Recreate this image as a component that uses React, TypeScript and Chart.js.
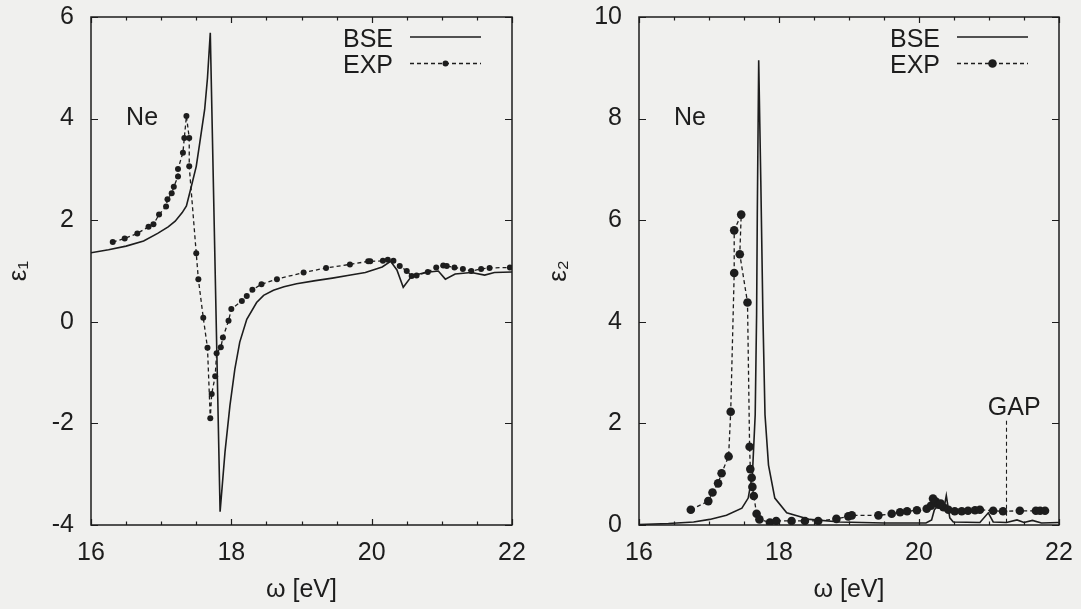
import React, { useEffect, useRef } from 'react';
import { Chart, registerables } from 'chart.js';

Chart.register(...registerables);

const FONT = '"Liberation Sans", Arial, Helvetica, sans-serif';
const INK = '#1d1d1d';
const PAPER = '#f0f0ee';

// ---------- data: epsilon_1 (left panel) ----------
const e1BseX = [16.0, 16.25, 16.5, 16.75, 16.95, 17.1, 17.2, 17.3, 17.36, 17.42, 17.5, 17.55, 17.62, 17.66, 17.7, 17.84, 17.91, 17.98, 18.05, 18.12, 18.22, 18.36, 18.46, 18.6, 18.75, 18.93, 19.2, 19.44, 19.7, 19.91, 20.15, 20.27, 20.36, 20.45, 20.57, 20.76, 20.95, 21.05, 21.19, 21.42, 21.61, 21.75, 22.0];
const e1BseY = [1.36, 1.42, 1.49, 1.59, 1.74, 1.87, 1.98, 2.15, 2.28, 2.61, 3.06, 3.52, 4.18, 4.8, 5.69, -3.74, -2.56, -1.65, -0.93, -0.4, 0.05, 0.38, 0.52, 0.62, 0.69, 0.75, 0.81, 0.86, 0.92, 0.97, 1.08, 1.19, 1.02, 0.68, 0.9, 0.97, 1.0, 0.84, 0.94, 0.97, 0.92, 0.97, 0.98];

const e1ExpX = [16.31, 16.48, 16.66, 16.82, 16.89, 16.97, 17.07, 17.09, 17.15, 17.18, 17.24, 17.24, 17.31, 17.33, 17.36, 17.4, 17.4, 17.5, 17.53, 17.6, 17.66, 17.7, 17.72, 17.77, 17.79, 17.85, 17.88, 17.96, 18.0, 18.15, 18.22, 18.3, 18.43, 18.65, 19.03, 19.35, 19.69, 19.95, 19.98, 20.16, 20.23, 20.31, 20.4, 20.5, 20.57, 20.64, 20.8, 20.92, 21.02, 21.07, 21.18, 21.3, 21.42, 21.56, 21.68, 21.97];
const e1ExpY = [1.57, 1.64, 1.74, 1.87, 1.92, 2.11, 2.27, 2.41, 2.53, 2.66, 2.86, 3.01, 3.33, 3.62, 4.05, 3.62, 3.06, 1.35, 0.84, 0.08, -0.51, -1.9, -1.42, -1.07, -0.62, -0.5, -0.31, 0.02, 0.25, 0.41, 0.51, 0.63, 0.74, 0.84, 0.97, 1.06, 1.13, 1.19, 1.19, 1.2, 1.22, 1.2, 1.1, 1.0, 0.9, 0.91, 0.98, 1.07, 1.11, 1.1, 1.07, 1.04, 1.0, 1.04, 1.06, 1.07];

// ---------- data: epsilon_2 (right panel) ----------
const e2BseX = [16.0, 16.42, 16.78, 17.01, 17.25, 17.47, 17.56, 17.62, 17.66, 17.68, 17.69, 17.71, 17.74, 17.77, 17.8, 17.85, 17.94, 18.11, 18.44, 18.87, 19.5, 20.1, 20.18, 20.22, 20.27, 20.32, 20.36, 20.39, 20.44, 20.49, 20.87, 20.99, 21.06, 21.25, 21.4, 21.5, 21.62, 21.75, 22.0];
const e2BseY = [0.01, 0.03, 0.06, 0.11, 0.19, 0.33, 0.53, 0.99, 2.17, 4.14, 6.11, 9.15, 6.77, 4.14, 2.17, 1.18, 0.53, 0.24, 0.11, 0.06, 0.04, 0.04, 0.1, 0.3, 0.38, 0.3, 0.35, 0.58, 0.14, 0.06, 0.05, 0.24, 0.06, 0.05, 0.1, 0.05, 0.09, 0.04, 0.05];

const e2ExpX = [16.74, 16.99, 17.05, 17.13, 17.18, 17.28, 17.31, 17.36, 17.36, 17.46, 17.44, 17.55, 17.58, 17.59, 17.61, 17.62, 17.64, 17.68, 17.72, 17.87, 17.96, 18.18, 18.37, 18.56, 18.82, 18.99, 19.04, 19.42, 19.61, 19.73, 19.83, 19.97, 20.11, 20.17, 20.2, 20.24, 20.28, 20.31, 20.35, 20.42, 20.51, 20.61, 20.7, 20.8, 20.87, 21.06, 21.2, 21.44, 21.67, 21.73, 21.8];
const e2ExpY = [0.3, 0.47, 0.64, 0.82, 1.02, 1.35, 2.23, 4.96, 5.8, 6.11, 5.33, 4.38, 1.54, 1.1, 0.93, 0.75, 0.57, 0.22, 0.11, 0.05, 0.08, 0.08, 0.08, 0.08, 0.12, 0.17, 0.19, 0.19, 0.22, 0.25, 0.27, 0.29, 0.32, 0.38, 0.52, 0.46, 0.4, 0.42, 0.35, 0.3, 0.27, 0.27, 0.28, 0.29, 0.3, 0.28, 0.27, 0.28, 0.28, 0.28, 0.28];

// ---------- axes / annotations ----------
const xRange = [16, 22];
const e1Range = [-4, 6];
const e2Range = [0, 10];
const labelStep = 2;
const minorStep = 0.5;
const neLabel = { text: 'Ne', x: 16.5, y1: 4, y2: 8 };
const gapMark = { text: 'GAP', x: 21.24, top: 2.05, labelX: 21.36, labelY: 2.3 };

const pts = (xs: number[], ys: number[]) => xs.map((x, i) => ({ x, y: ys[i] }));

const gnuPlugin = {
  id: 'gnu',
  afterDatasetsDraw(chart: any, _args: any, opts: any) {
    const { ctx, chartArea: a, scales } = chart;
    const x = scales.x;
    const y = scales.y;
    ctx.save();
    ctx.strokeStyle = INK;
    ctx.fillStyle = INK;
    ctx.setLineDash([]);
    // ticks (inward, mirrored)
    ctx.lineWidth = 1.2;
    ctx.beginPath();
    for (let v = x.min; v <= x.max + 1e-9; v += minorStep) {
      const px = Math.round(x.getPixelForValue(v)) + 0.5;
      const major = Math.abs(v / labelStep - Math.round(v / labelStep)) < 1e-6;
      const len = major ? 6 : 3.5;
      ctx.moveTo(px, a.bottom);
      ctx.lineTo(px, a.bottom - len);
      ctx.moveTo(px, a.top);
      ctx.lineTo(px, a.top + len);
    }
    y.ticks.forEach((t: any) => {
      const py = Math.round(y.getPixelForValue(t.value)) + 0.5;
      ctx.moveTo(a.left, py);
      ctx.lineTo(a.left + 7, py);
      ctx.moveTo(a.right, py);
      ctx.lineTo(a.right - 7, py);
    });
    ctx.stroke();
    // border
    ctx.lineWidth = 1.5;
    ctx.strokeRect(a.left, a.top, a.right - a.left, a.bottom - a.top);

    // "Ne" label
    ctx.font = `25px ${FONT}`;
    ctx.textAlign = 'left';
    ctx.textBaseline = 'middle';
    ctx.fillText(neLabel.text, x.getPixelForValue(neLabel.x), y.getPixelForValue(opts.neY));

    // legend (gnuplot style: right-justified text, then sample)
    chart.data.datasets.forEach((ds: any, i: number) => {
      const lineY = a.top + 20 + i * 26.5;
      ctx.textAlign = 'right';
      ctx.textBaseline = 'alphabetic';
      ctx.fillText(ds.label, a.right - 119, lineY + 9.5);
      ctx.beginPath();
      ctx.lineWidth = ds.borderWidth;
      ctx.setLineDash(ds.borderDash || []);
      ctx.moveTo(a.right - 102, lineY);
      ctx.lineTo(a.right - 31, lineY);
      ctx.stroke();
      ctx.setLineDash([]);
      if (ds.pointRadius > 0) {
        ctx.beginPath();
        ctx.arc(a.right - 66.5, lineY, ds.pointRadius, 0, Math.PI * 2);
        ctx.fill();
      }
    });

    // GAP marker
    if (opts.gap) {
      const gx = Math.round(x.getPixelForValue(gapMark.x)) + 0.5;
      ctx.beginPath();
      ctx.lineWidth = 1.1;
      ctx.setLineDash([4, 3]);
      ctx.moveTo(gx, y.getPixelForValue(gapMark.top));
      ctx.lineTo(gx, y.getPixelForValue(0));
      ctx.stroke();
      ctx.setLineDash([]);
      ctx.textAlign = 'center';
      ctx.textBaseline = 'middle';
      ctx.fillText(gapMark.text, x.getPixelForValue(gapMark.labelX), y.getPixelForValue(gapMark.labelY));
    }
    ctx.restore();
  },
};

function makeConfig(p: {
  bse: { x: number; y: number }[];
  exp: { x: number; y: number }[];
  yRange: number[];
  yTitle: string;
  dotR: number;
  yWidth: number;
  padRight: number;
  neY: number;
  gap: boolean;
}): any {
  return {
    type: 'line',
    data: {
      datasets: [
        {
          label: 'BSE',
          data: p.bse,
          borderColor: INK,
          borderWidth: 1.6,
          pointRadius: 0,
          tension: 0,
          fill: false,
        },
        {
          label: 'EXP',
          data: p.exp,
          borderColor: INK,
          borderWidth: 1.3,
          borderDash: [4, 3],
          pointRadius: p.dotR,
          pointBackgroundColor: INK,
          pointBorderColor: INK,
          pointBorderWidth: 0,
          tension: 0,
          fill: false,
        },
      ],
    },
    options: {
      responsive: false,
      animation: false,
      events: [],
      layout: { padding: { top: 17, right: p.padRight, left: 0, bottom: 0 } },
      plugins: {
        legend: { display: false },
        tooltip: { enabled: false },
        gnu: { neY: p.neY, gap: p.gap },
      },
      scales: {
        x: {
          type: 'linear',
          min: xRange[0],
          max: xRange[1],
          afterFit: (s: any) => {
            s.height = 84;
            s.paddingLeft = 0;
            s.paddingRight = 0;
          },
          grid: { display: false, drawTicks: false },
          border: { display: false },
          ticks: {
            stepSize: labelStep,
            padding: 13,
            color: INK,
            font: { size: 25, family: FONT },
            maxRotation: 0,
          },
          title: {
            display: true,
            text: 'ω [eV]',
            color: INK,
            font: { size: 25, family: FONT },
            padding: { top: 0, bottom: 4 },
          },
        },
        y: {
          type: 'linear',
          min: p.yRange[0],
          max: p.yRange[1],
          afterFit: (s: any) => {
            s.width = p.yWidth;
            s.paddingTop = 0;
            s.paddingBottom = 0;
          },
          grid: { display: false, drawTicks: false },
          border: { display: false },
          ticks: {
            stepSize: labelStep,
            padding: 17,
            color: INK,
            font: { size: 25, family: FONT },
          },
          title: {
            display: true,
            text: p.yTitle,
            color: INK,
            font: { size: 26, family: FONT },
            padding: { top: 3, bottom: 0 },
          },
        },
      },
    },
    plugins: [gnuPlugin],
  };
}

function Panel({ left, width, config }: { left: number; width: number; config: () => any }) {
  const ref = useRef<HTMLCanvasElement>(null);
  useEffect(() => {
    const chart = new Chart(ref.current as HTMLCanvasElement, config());
    return () => chart.destroy();
  }, []);
  return (
    <canvas
      ref={ref}
      width={width}
      height={609}
      style={{ position: 'absolute', left, top: 0, width, height: 609 }}
    />
  );
}

export default function App() {
  return (
    <div
      style={{
        position: 'fixed',
        left: 0,
        top: 0,
        width: 1081,
        height: 609,
        background: PAPER,
        overflow: 'hidden',
      }}
    >
      <Panel
        left={0}
        width={540}
        config={() =>
          makeConfig({
            bse: pts(e1BseX, e1BseY),
            exp: pts(e1ExpX, e1ExpY),
            yRange: e1Range,
            yTitle: 'ε₁',
            dotR: 3,
            yWidth: 91,
            padRight: 28,
            neY: neLabel.y1,
            gap: false,
          })
        }
      />
      <Panel
        left={540}
        width={541}
        config={() =>
          makeConfig({
            bse: pts(e2BseX, e2BseY),
            exp: pts(e2ExpX, e2ExpY),
            yRange: e2Range,
            yTitle: 'ε₂',
            dotR: 4.3,
            yWidth: 99,
            padRight: 22,
            neY: neLabel.y2,
            gap: true,
          })
        }
      />
    </div>
  );
}
